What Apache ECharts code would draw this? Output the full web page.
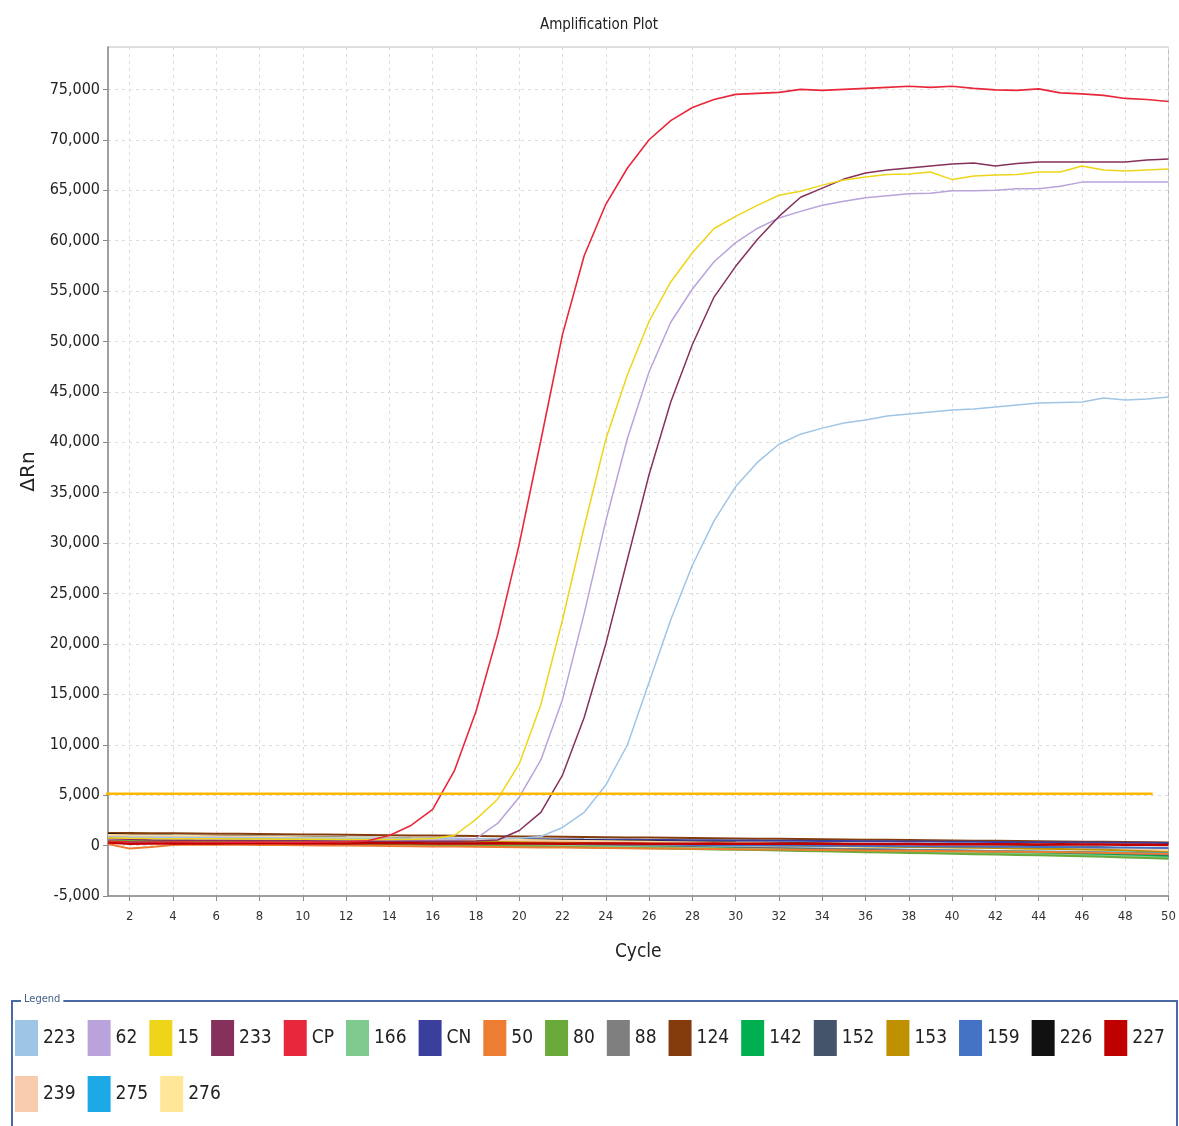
<!DOCTYPE html>
<html><head><meta charset="utf-8">
<script src="https://cdn.jsdelivr.net/npm/echarts@6/dist/echarts.min.js"></script>
<style>html,body{margin:0;padding:0;background:#fff}#c{width:1179px;height:1126px}</style>
</head><body><div id="c"></div>
<script>
const cycles = [1,2,3,4,5,6,7,8,9,10,11,12,13,14,15,16,17,18,19,20,21,22,23,24,25,26,27,28,29,30,31,32,33,34,35,36,37,38,39,40,41,42,43,44,45,46,47,48,49,50];
const xTicks = [2,4,6,8,10,12,14,16,18,20,22,24,26,28,30,32,34,36,38,40,42,44,46,48,50];
const yTicks = [-5000,0,5000,10000,15000,20000,25000,30000,35000,40000,45000,50000,55000,60000,65000,70000,75000];
const thresholdX = [0.4, 49.27];
const thresholdValue = 5150;

const vCP = [420,380,350,360,340,330,350,340,330,340,360,380,480,1000,2000,3600,7400,13300,20900,29900,40200,50700,58500,63600,67200,70000,71900,73200,74000,74500,74600,74700,75000,74900,75000,75100,75200,75300,75200,75300,75100,74950,74900,75050,74650,74550,74400,74100,74000,73800];
const v15 = [750,720,700,690,680,670,660,650,640,630,620,610,600,600,620,700,1000,2600,4600,8100,14000,22400,31600,40300,46700,52000,55900,58800,61200,62400,63500,64500,64900,65500,66000,66300,66550,66600,66800,66050,66400,66500,66550,66800,66800,67400,67000,66900,67000,67100];
const v62 = [650,640,630,620,610,600,590,580,570,560,550,540,530,520,520,530,560,700,2200,4800,8500,14500,23000,32200,40400,47000,51900,55200,57900,59800,61200,62250,62900,63500,63900,64250,64450,64650,64700,64950,64950,65000,65150,65150,65400,65800,65800,65800,65800,65800];
const v233 = [700,620,560,540,520,510,500,490,480,470,460,450,440,430,420,420,430,450,550,1500,3300,7000,12700,20000,28400,36800,44000,49700,54400,57450,60100,62400,64300,65200,66100,66700,67000,67200,67400,67600,67700,67400,67650,67800,67800,67800,67800,67800,68000,68100];
const v223 = [850,830,820,810,800,790,780,770,760,750,740,730,720,710,700,690,680,680,690,720,900,1800,3300,6000,10000,16200,22400,27800,32200,35600,38000,39800,40800,41400,41900,42200,42600,42800,43000,43200,43300,43500,43700,43900,43950,44000,44400,44200,44300,44500];

const v226 = [1150,1060,1030,1000,975,950,925,900,870,845,820,790,765,740,710,685,660,630,605,580,550,525,500,470,445,420,390,365,340,310,285,260,230,205,180,150,125,100,70,45,20,-10,-40,-70,-110,-150,-200,-260,-330,-450];
const vCN = [900,860,850,840,830,815,800,790,780,765,750,740,730,715,700,690,680,665,650,640,630,615,600,590,580,565,550,540,530,515,500,490,480,465,450,440,430,415,400,390,380,365,350,340,330,315,300,290,270,250];
const v124 = [1250,1240,1230,1215,1200,1185,1170,1150,1130,1110,1090,1070,1050,1030,1010,990,970,950,930,910,890,870,850,830,810,790,770,750,730,710,690,670,650,630,610,590,570,550,530,510,490,470,450,430,410,390,370,350,330,310];
const v227 = [300,180,200,220,210,200,220,230,220,210,200,210,220,230,220,210,200,210,220,210,200,190,200,210,200,190,180,190,200,190,180,170,180,170,160,150,160,150,140,130,140,130,120,110,120,110,100,90,80,60];
const v88 = [650,620,600,575,550,520,490,460,430,400,370,345,320,290,260,230,200,170,140,110,80,50,20,-10,-40,-70,-100,-130,-160,-190,-220,-250,-280,-310,-340,-370,-400,-430,-460,-490,-520,-550,-580,-610,-640,-680,-720,-770,-830,-900];
const v152 = [600,570,545,515,485,455,425,395,365,335,305,275,245,215,185,155,125,95,65,35,5,-25,-55,-85,-115,-145,-175,-205,-235,-265,-300,-335,-370,-405,-440,-475,-510,-545,-580,-615,-650,-690,-730,-770,-810,-850,-890,-930,-990,-1050];
const v166 = [700,670,640,605,570,535,500,465,430,395,360,325,290,255,220,185,150,115,80,45,10,-25,-60,-95,-130,-165,-200,-235,-270,-305,-340,-380,-420,-460,-500,-540,-580,-620,-660,-700,-740,-780,-820,-860,-900,-950,-1000,-1060,-1130,-1200];
const v80 = [600,560,530,495,460,425,390,355,320,285,250,215,180,145,110,75,40,5,-30,-65,-100,-135,-170,-205,-240,-275,-310,-345,-380,-415,-450,-490,-530,-570,-610,-650,-690,-730,-770,-810,-850,-890,-930,-970,-1010,-1060,-1110,-1170,-1230,-1300];
const v142 = [550,520,495,465,435,405,375,345,315,285,255,225,195,165,135,105,75,45,15,-15,-45,-75,-105,-135,-165,-195,-225,-255,-285,-315,-345,-380,-415,-450,-485,-520,-555,-590,-625,-660,-695,-730,-770,-810,-850,-890,-930,-980,-1040,-1100];
const v153 = [800,770,745,720,695,670,645,620,595,570,545,520,495,470,445,420,395,370,345,320,295,270,245,220,195,170,145,120,95,70,45,20,-5,-30,-55,-80,-105,-130,-160,-190,-220,-250,-280,-310,-340,-380,-420,-480,-560,-650];
const v159 = [450,380,360,350,340,330,315,300,290,280,270,255,240,230,220,210,195,180,170,160,150,135,120,110,100,90,75,60,50,40,30,15,0,-10,-20,-30,-45,-60,-70,-80,-90,-105,-120,-130,-140,-160,-180,-200,-220,-250];
const v50 = [150,-300,-150,50,100,90,80,70,60,40,20,0,-20,-40,-60,-80,-100,-120,-140,-160,-180,-200,-220,-240,-260,-280,-300,-320,-340,-360,-380,-400,-420,-440,-460,-480,-500,-520,-540,-560,-580,-600,-620,-640,-660,-690,-720,-750,-780,-820];
const v239 = [950,920,900,880,860,840,815,790,765,740,715,690,665,640,615,590,565,540,515,490,465,440,415,390,365,340,315,290,265,240,215,190,165,140,115,90,65,40,15,-10,-40,-70,-100,-130,-160,-200,-240,-280,-330,-400];
const v275 = [500,470,450,425,400,375,350,325,300,275,250,225,200,175,150,125,100,75,50,25,0,-25,-50,-75,-100,-125,-150,-175,-200,-225,-250,-275,-300,-325,-350,-375,-400,-425,-450,-475,-500,-525,-550,-575,-600,-630,-660,-690,-720,-750];
const v276 = [1050,1020,1000,975,950,925,900,875,850,825,800,775,750,725,700,670,640,610,580,550,520,490,460,430,400,370,340,310,280,250,220,190,160,130,100,70,40,10,-20,-50,-80,-110,-140,-170,-200,-240,-280,-330,-400,-500];

const legendRow1 = ['223','62','15','233','CP','166','CN','50','80','88','124','142','152','153','159','226','227'];
const legendRow2 = ['239','275','276'];

// draw order: flat curves first, amplification curves on top
const seriesDefs = [
  ['124', v124, '#843C0C', 2],
  ['CN', vCN, '#3A3F9E', 2],
  ['226', v226, '#111111', 2],
  ['276', v276, '#FFE699', 2],
  ['239', v239, '#F8CBAD', 2],
  ['153', v153, '#BF9000', 2],
  ['159', v159, '#4472C4', 2],
  ['275', v275, '#1CA9E6', 2],
  ['88', v88, '#7F7F7F', 2],
  ['152', v152, '#44546A', 2],
  ['142', v142, '#00B050', 2],
  ['166', v166, '#7FCB8F', 2],
  ['80', v80, '#6AAA3A', 2],
  ['50', v50, '#ED7D31', 2],
  ['227', v227, '#C00000', 2.5],
  ['223', v223, '#9FC5E6', 1.5],
  ['62', v62, '#B9A3DA', 1.5],
  ['233', v233, '#86305C', 1.5],
  ['15', v15, '#EED51A', 1.5],
  ['CP', vCP, '#E8283A', 1.6]
];

const narrow = "'DejaVu Sans Condensed','Liberation Sans Narrow',sans-serif";

const series = seriesDefs.map(([name, vals, color, w]) => ({
  name: name,
  type: 'line',
  data: cycles.map((c, i) => [c, vals[i]]),
  showSymbol: false,
  symbol: 'none',
  color: color,
  lineStyle: { width: w, color: color },
  itemStyle: { color: color },
  emphasis: { disabled: true },
  silent: true
}));

series.push({
  name: 'Threshold',
  type: 'line',
  data: thresholdX.map(x => [x, thresholdValue]),
  showSymbol: false,
  symbol: 'none',
  clip: false,
  color: '#FFB800',
  lineStyle: { width: 2.5, color: '#FFB800' },
  emphasis: { disabled: true },
  silent: true,
  z: 5
});

const chart = echarts.init(document.getElementById('c'), null, { renderer: 'canvas' });
const legendCommon = {
  icon: 'rect',
  itemWidth: 23,
  itemHeight: 36,
  itemGap: 12,
  selectedMode: false,
  width: 1162,
  textStyle: { fontFamily: narrow, fontSize: 19, color: '#222' },
  padding: 0
};
chart.setOption({
  animation: false,
  backgroundColor: '#fff',
  title: {
    text: 'Amplification Plot',
    left: 594, top: 13, textAlign: 'center',
    textStyle: { fontFamily: narrow, fontSize: 15, fontWeight: 'normal', color: '#222' }
  },
  grid: { left: 108, right: 10, top: 47, bottom: 230, show: true, borderColor: '#bdbdbd', borderWidth: 1, containLabel: false },
  xAxis: {
    type: 'value', min: 1, max: 50,
    name: 'Cycle', nameLocation: 'middle', nameGap: 47,
    nameTextStyle: { fontFamily: narrow, fontSize: 19, color: '#222' },
    axisLine: { show: true, onZero: false, lineStyle: { color: '#8a8a8a', width: 1.5 } },
    axisTick: { show: true, length: 5, customValues: xTicks, lineStyle: { color: '#8a8a8a' } },
    axisLabel: { customValues: xTicks, fontFamily: narrow, fontSize: 13, color: '#333', margin: 14 },
    splitLine: { show: true, lineStyle: { color: '#dcdcdc', type: [3, 4], width: 1 } }
  },
  yAxis: {
    type: 'value', min: -5000, max: 79200,
    name: 'ΔRn', nameLocation: 'middle', nameGap: 43, nameRotate: 90,
    nameTextStyle: { fontFamily: "'DejaVu Sans',sans-serif", fontSize: 20, color: '#222' },
    axisLine: { show: true, lineStyle: { color: '#8a8a8a', width: 1.5 } },
    axisTick: { show: true, length: 5, customValues: yTicks, lineStyle: { color: '#8a8a8a' } },
    axisLabel: { customValues: yTicks, fontFamily: narrow, fontSize: 16, color: '#222', margin: 8,
      formatter: v => Number(v).toLocaleString('en-US') },
    splitLine: { show: true, lineStyle: { color: '#dcdcdc', type: [3, 4], width: 1 } }
  },
  legend: [
    Object.assign({}, legendCommon, { data: legendRow1, left: 15, top: 1020 }),
    Object.assign({}, legendCommon, { data: legendRow2, left: 15, top: 1076 })
  ],
  graphic: [
    { type: 'rect', silent: true, z: -1,
      shape: { x: 12, y: 1001, width: 1165, height: 140 },
      style: { fill: 'none', stroke: '#4a6aa5', lineWidth: 2 } },
    { type: 'text', silent: true, left: 21, top: 994,
      style: { text: 'Legend', fontFamily: narrow, fontSize: 11, fill: '#44608a', backgroundColor: '#fff', padding: [0, 3] } }
  ],
  series: series
});
</script></body></html>
